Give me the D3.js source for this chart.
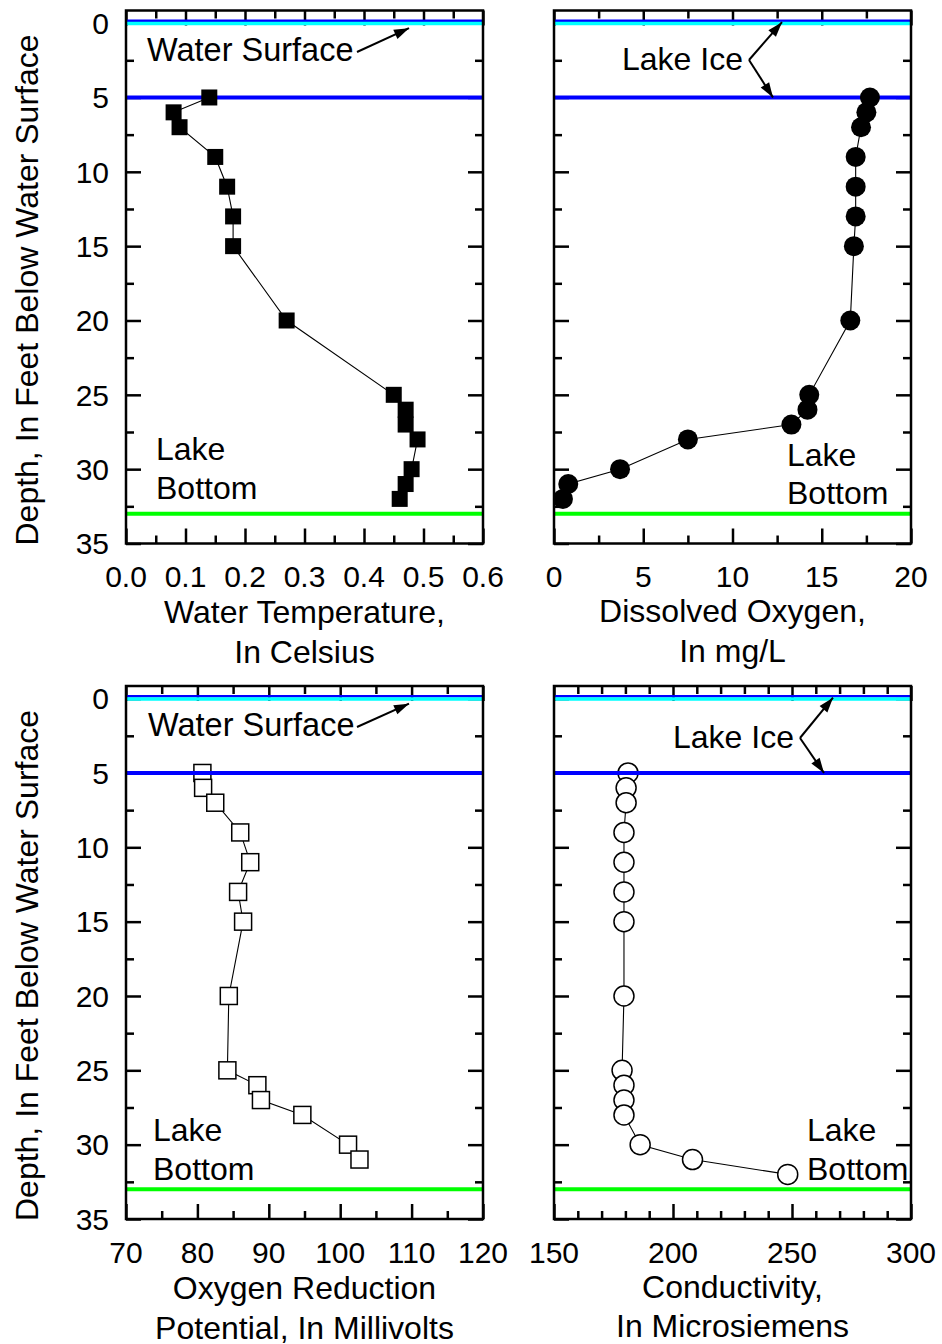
<!DOCTYPE html>
<html><head><meta charset="utf-8">
<script src="https://cdn.jsdelivr.net/npm/d3@7"></script>
<style>
body{margin:0;background:#fff}
text{font-family:"Liberation Sans",Arial,sans-serif;fill:#000}
</style>
</head><body>
<svg id="chart" width="942" height="1344"></svg>
<script>
// ---------------- data ----------------
const depths = [5,6,7,9,11,13,15,20,25,26,27,28,30,31,32];
const temperature = [0.14,0.08,0.09,0.15,0.17,0.18,0.18,0.27,0.45,0.47,0.47,0.49,0.48,0.47,0.46];
const dissolvedOxygen = [17.7,17.5,17.2,16.9,16.9,16.9,16.8,16.6,14.3,14.2,13.3,7.5,3.7,0.8,0.5];
const orpDepths = [5,6,7,9,11,13,15,20,25,26,27,28,30,31];
const orp = [80.7,80.8,82.5,86.0,87.4,85.7,86.4,84.4,84.2,88.4,88.9,94.7,101.1,102.7];
const conductivity = [181.1,180.3,180.3,179.4,179.4,179.4,179.4,179.4,178.6,179.4,179.4,179.4,186.2,208.2,248.2];

const depthMajor = [0,5,10,15,20,25,30,35];
const depthMinor = [2.5,7.5,12.5,17.5,22.5,27.5,32.5];
const tempMajor = [0,0.1,0.2,0.3,0.4,0.5,0.6];
const tempMinor = [0.05,0.15,0.25,0.35,0.45,0.55];
const tempLabels = ["0.0","0.1","0.2","0.3","0.4","0.5","0.6"];
const doMajor = [0,5,10,15,20];
const doMinor = [2.5,7.5,12.5,17.5];
const orpMajor = [70,80,90,100,110,120];
const orpMinor = [75,85,95,105,115];
const condMajor = [150,200,250,300];
const condMinor = [160,170,180,190,210,220,230,240,260,270,280,290];

const surfaceDepth = 0, iceBottomDepth = 5, lakeBottomDepth = 33;
const yTitle = "Depth, In Feet Below Water Surface";

// ---------------- layout ----------------
const svg = d3.select("#chart");
const DY = 675.5;
const panels = [
  {left:126, right:483, top:10.5, bottom:543.5, dom:[0,0.6], major:tempMajor, minor:tempMinor,
   fmt:(d,i)=>tempLabels[i], ys:depths, xs:temperature, marker:"square", filled:true, size:16,
   title:["Water Temperature,","In Celsius"], titleY:[623,663], yAxis:true, annot:"surface"},
  {left:554, right:911, top:10.5, bottom:543.5, dom:[0,20], major:doMajor, minor:doMinor,
   fmt:d=>d, ys:depths, xs:dissolvedOxygen, marker:"circle", filled:true, size:10,
   title:["Dissolved Oxygen,","In mg/L"], titleY:[622,662], yAxis:false, annot:"ice"},
  {left:126, right:483, top:10.5+DY, bottom:543.5+DY, dom:[70,120], major:orpMajor, minor:orpMinor,
   fmt:d=>d, ys:orpDepths, xs:orp, marker:"square", filled:false, size:17,
   title:["Oxygen Reduction","Potential, In Millivolts"], titleY:[623+DY,663+DY], yAxis:true, annot:"surface"},
  {left:554, right:911, top:10.5+DY, bottom:543.5+DY, dom:[150,300], major:condMajor, minor:condMinor,
   fmt:d=>d, ys:depths, xs:conductivity, marker:"circle", filled:false, size:10,
   title:["Conductivity,","In Microsiemens"], titleY:[622+DY,661+DY], yAxis:false, annot:"ice"}
];
const lakeBottomPos = [[156,460,499],[787,466,504],[153,1141,1180],[807,1141,1180]];
const annotTextPos = [[147,61],[622,70],[148,736],[673,748]];

svg.append("rect").attr("width",942).attr("height",1344).attr("fill","#fff");

function arrow(g, x1, y1, x2, y2){
  g.append("line").attr("x1",x1).attr("y1",y1).attr("x2",x2).attr("y2",y2)
    .attr("stroke","#000").attr("stroke-width",2);
  const a = Math.atan2(y2-y1, x2-x1), L = 15, w = 5;
  const bx = x2 - L*Math.cos(a), by = y2 - L*Math.sin(a);
  const px = -Math.sin(a)*w, py = Math.cos(a)*w;
  g.append("path").attr("d",`M${x2},${y2}L${bx+px},${by+py}L${bx-px},${by-py}Z`).attr("fill","#000");
}

panels.forEach((p,pi)=>{
  const g = svg.append("g");
  const x = d3.scaleLinear().domain(p.dom).range([p.left,p.right]);
  const y = d3.scaleLinear().domain([-0.85,35]).range([p.top,p.bottom]);

  // ticks (inward)
  const tickAxis = (axisFn, scale, vals, size, tr) => {
    const a = g.append("g").attr("transform",tr)
      .call(axisFn(scale).tickValues(vals).tickSize(size).tickFormat(""));
    a.select(".domain").remove();
    a.selectAll("line").attr("stroke","#000").attr("stroke-width",2.5);
  };
  tickAxis(d3.axisBottom, x, p.major, -15, `translate(0,${p.bottom})`);
  tickAxis(d3.axisBottom, x, p.minor, -8, `translate(0,${p.bottom})`);
  tickAxis(d3.axisTop, x, p.major, -15, `translate(0,${p.top})`);
  tickAxis(d3.axisTop, x, p.minor, -8, `translate(0,${p.top})`);
  tickAxis(d3.axisLeft, y, depthMajor, -15, `translate(${p.left},0)`);
  tickAxis(d3.axisLeft, y, depthMinor, -8, `translate(${p.left},0)`);
  tickAxis(d3.axisRight, y, depthMajor, -15, `translate(${p.right},0)`);
  tickAxis(d3.axisRight, y, depthMinor, -8, `translate(${p.right},0)`);

  // x tick labels
  g.append("g").selectAll("text").data(p.major).join("text")
    .attr("x",d=>x(d)).attr("y",p.bottom+43.5).attr("text-anchor","middle")
    .attr("font-size",30).text((d,i)=>p.fmt(d,i));

  // y tick labels
  if(p.yAxis){
    g.append("g").selectAll("text").data(depthMajor).join("text")
      .attr("x",p.left-17).attr("y",d=>y(d)).attr("dy","0.36em").attr("text-anchor","end")
      .attr("font-size",30).text(d=>d);
    g.append("text").attr("transform",`translate(38,${(p.top+p.bottom)/2+13}) rotate(-90)`)
      .attr("text-anchor","middle").attr("font-size",32).text(yTitle);
  }

  // x titles
  p.title.forEach((t,i)=>{
    g.append("text").attr("x",(p.left+p.right)/2).attr("y",p.titleY[i])
      .attr("text-anchor","middle").attr("font-size",32).text(t);
  });

  // reference lines
  const refLines = gg => {
    gg.append("line").attr("x1",p.left).attr("x2",p.right).attr("y1",y(surfaceDepth)-2.5).attr("y2",y(surfaceDepth)-2.5)
      .attr("stroke","#0000ff").attr("stroke-width",2.5);
    gg.append("line").attr("x1",p.left).attr("x2",p.right).attr("y1",y(surfaceDepth)+0.3).attr("y2",y(surfaceDepth)+0.3)
      .attr("stroke","#00ffff").attr("stroke-width",3.4);
    gg.append("line").attr("x1",p.left).attr("x2",p.right).attr("y1",y(iceBottomDepth)).attr("y2",y(iceBottomDepth))
      .attr("stroke","#0000ff").attr("stroke-width",4);
    gg.append("line").attr("x1",p.left).attr("x2",p.right).attr("y1",y(lakeBottomDepth)).attr("y2",y(lakeBottomDepth))
      .attr("stroke","#00ff00").attr("stroke-width",4);
  };
  const refG = g.append("g");
  const dataG = g.append("g");
  if(!p.filled) refG.raise();

  // data line + markers
  const pts = p.ys.map((d,i)=>[x(p.xs[i]), y(d)]);
  dataG.append("path").attr("d",d3.line()(pts)).attr("fill","none").attr("stroke","#000").attr("stroke-width",1.1);
  if(p.marker==="square"){
    dataG.selectAll("rect").data(pts).join("rect")
      .attr("x",d=>d[0]-p.size/2).attr("y",d=>d[1]-p.size/2).attr("width",p.size).attr("height",p.size)
      .attr("fill",p.filled?"#000":"#fff").attr("stroke","#000").attr("stroke-width",p.filled?0:1.5);
  } else {
    dataG.selectAll("circle").data(pts).join("circle")
      .attr("cx",d=>d[0]).attr("cy",d=>d[1]).attr("r",p.size)
      .attr("fill",p.filled?"#000":"#fff").attr("stroke","#000").attr("stroke-width",p.filled?0:1.5);
  }
  refLines(refG);

  // frame
  g.append("rect").attr("x",p.left).attr("y",p.top).attr("width",p.right-p.left).attr("height",p.bottom-p.top)
    .attr("fill","none").attr("stroke","#000").attr("stroke-width",2.5);

  // annotations
  const [tx,ty] = annotTextPos[pi];
  const an = g.append("g");
  if(p.annot==="surface"){
    an.append("text").attr("x",tx).attr("y",ty).attr("font-size",32.5).text("Water Surface");
    arrow(an, 357, ty-9, 409, y(surfaceDepth)+5);
  } else {
    an.append("text").attr("x",tx).attr("y",ty).attr("font-size",32).text("Lake Ice");
    const vx = tx+127, vy = ty-10;
    arrow(an, vx, vy, vx+33, y(surfaceDepth)-1);
    arrow(an, vx, vy, vx+24, y(iceBottomDepth));
  }
  const [lx,ly1,ly2] = lakeBottomPos[pi];
  an.append("text").attr("x",lx).attr("y",ly1).attr("font-size",32).text("Lake");
  an.append("text").attr("x",lx).attr("y",ly2).attr("font-size",32).text("Bottom");
});
</script>
</body></html>
